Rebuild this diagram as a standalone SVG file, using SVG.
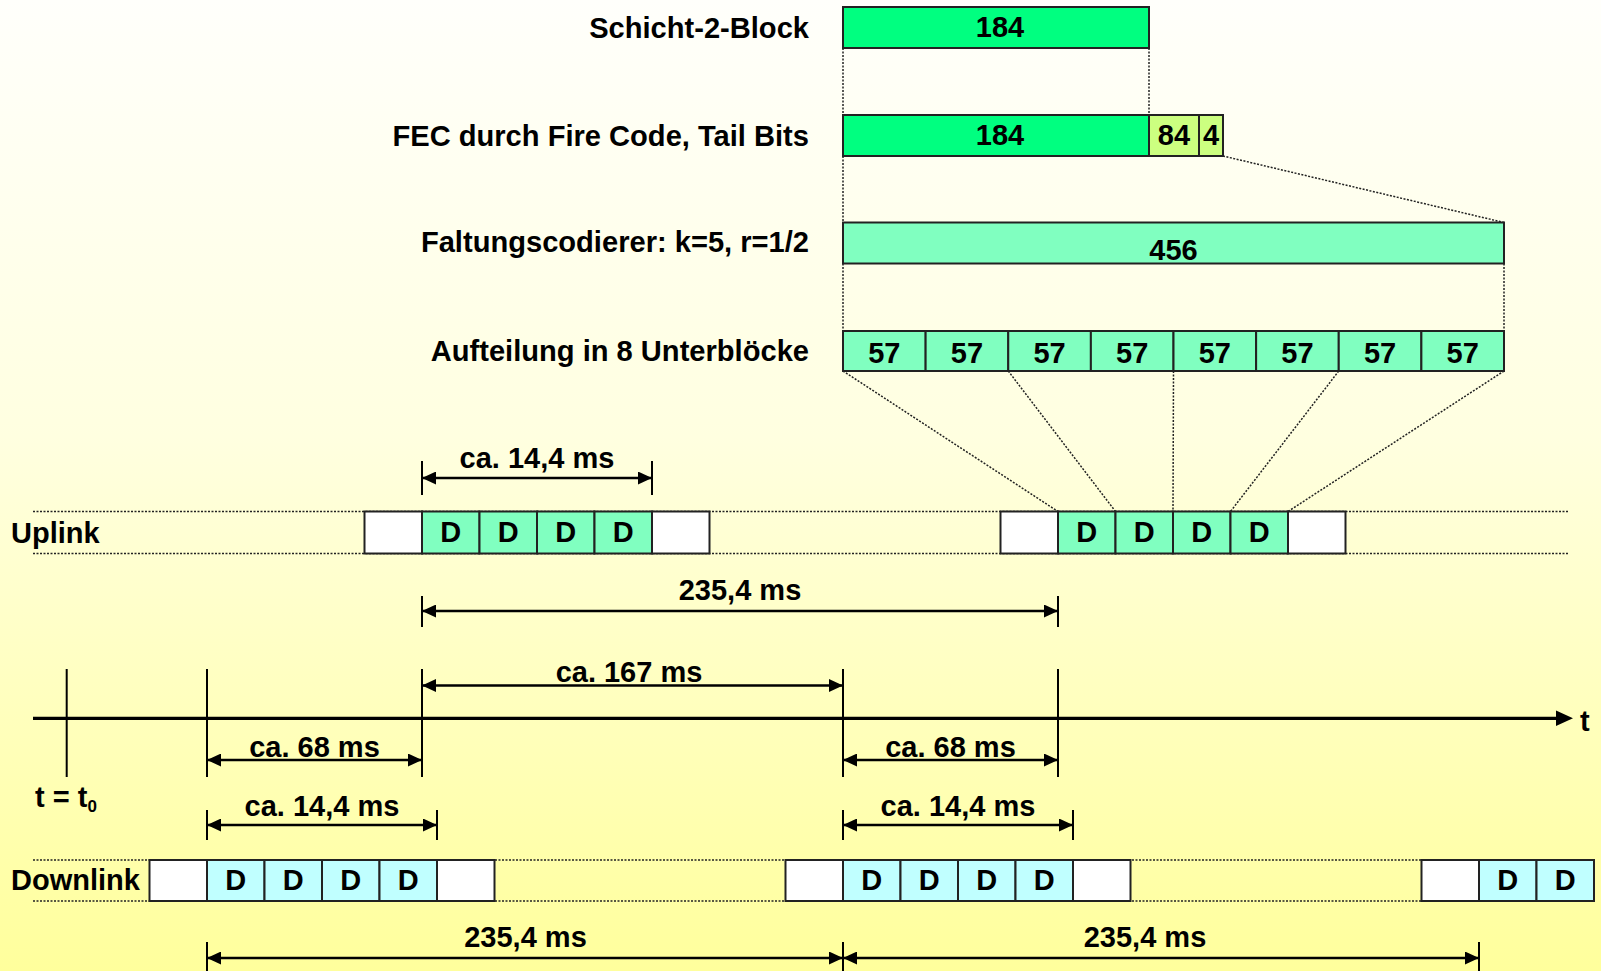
<svg xmlns="http://www.w3.org/2000/svg" width="1601" height="971" viewBox="0 0 1601 971">
<defs>
<linearGradient id="bg" x1="0" y1="0" x2="0" y2="1">
<stop offset="0" stop-color="#FFFFFB"/>
<stop offset="0.45" stop-color="#FFFFE0"/>
<stop offset="1" stop-color="#FFFF9C"/>
</linearGradient>
<marker id="ah" viewBox="0 0 14 13" refX="14" refY="6.5" markerWidth="14" markerHeight="13" markerUnits="userSpaceOnUse" orient="auto-start-reverse">
<path d="M0,0 L14,6.5 L0,13 z" fill="#000"/>
</marker>
<style>
text{font-family:"Liberation Sans",Arial,sans-serif;font-weight:bold;font-size:29px;fill:#000}
.lbl{text-anchor:end;font-size:29.1px}
.c{text-anchor:middle}
.box{stroke:#222;stroke-width:2}
.g1{fill:#00FF80}
.g2{fill:#CCFF80}
.g3{fill:#80FFC0}
.cy{fill:#C0FFFF}
.wh{fill:#FFFFFF}
.dot{stroke:#222;stroke-width:1.5;stroke-dasharray:2 1.5;fill:none}
.dim{stroke:#000;stroke-width:2.5;fill:none;marker-start:url(#ah);marker-end:url(#ah)}
.tick{stroke:#000;stroke-width:2;fill:none}
</style>
</defs>
<rect x="0" y="0" width="1601" height="971" fill="url(#bg)"/>

<g id="labels">
<text class="lbl" x="809" y="37.5">Schicht-2-Block</text>
<text class="lbl" x="809" y="145.5">FEC durch Fire Code, Tail Bits</text>
<text class="lbl" x="809" y="251.5">Faltungscodierer: k=5, r=1/2</text>
<text class="lbl" x="809" y="360.5">Aufteilung in 8 Unterblöcke</text>
<text x="11" y="542.5">Uplink</text>
<text x="11" y="889.5">Downlink</text>
<text x="35" y="807">t = t<tspan font-size="17" dy="5">0</tspan></text>
<text x="1580" y="731">t</text>
</g>

<g id="connectors">
<line class="dot" x1="843" y1="48" x2="843" y2="115"/>
<line class="dot" x1="1149" y1="48" x2="1149" y2="115"/>
<line class="dot" x1="843" y1="156" x2="843" y2="222.5"/>
<line class="dot" x1="1223" y1="156" x2="1504" y2="222.5"/>
<line class="dot" x1="843" y1="263.5" x2="843" y2="331"/>
<line class="dot" x1="1504" y1="263.5" x2="1504" y2="331"/>
<line class="dot" x1="843" y1="371" x2="1058" y2="511.5"/>
<line class="dot" x1="1008.25" y1="371" x2="1115.5" y2="511.5"/>
<line class="dot" x1="1173.5" y1="371" x2="1173" y2="511.5"/>
<line class="dot" x1="1338.75" y1="371" x2="1230.5" y2="511.5"/>
<line class="dot" x1="1504" y1="371" x2="1288" y2="511.5"/>
<line class="dot" x1="33" y1="511.5" x2="1569" y2="511.5"/>
<line class="dot" x1="33" y1="553.5" x2="1569" y2="553.5"/>
<line class="dot" x1="33" y1="860" x2="1594" y2="860"/>
<line class="dot" x1="33" y1="901" x2="1594" y2="901"/>
</g>

<g id="block-184">
<rect class="box g1" x="843" y="7" width="306" height="41"/>
<text class="c" x="1000" y="37">184</text>
</g>
<g id="block-fec">
<rect class="box g1" x="843" y="115" width="306" height="41"/>
<text class="c" x="1000" y="145">184</text>
<rect class="box g2" x="1149" y="115" width="50" height="41"/>
<text class="c" x="1174" y="145">84</text>
<rect class="box g2" x="1199" y="115" width="24" height="41"/>
<text class="c" x="1211" y="145">4</text>
</g>
<g id="block-456">
<rect class="box g3" x="843" y="222.5" width="661" height="41"/>
<text class="c" x="1173.5" y="260">456</text>
</g>
<g id="block-57">
<rect class="box g3" x="843" y="331" width="82.625" height="40"/>
<rect class="box g3" x="925.625" y="331" width="82.625" height="40"/>
<rect class="box g3" x="1008.25" y="331" width="82.625" height="40"/>
<rect class="box g3" x="1090.875" y="331" width="82.625" height="40"/>
<rect class="box g3" x="1173.5" y="331" width="82.625" height="40"/>
<rect class="box g3" x="1256.125" y="331" width="82.625" height="40"/>
<rect class="box g3" x="1338.75" y="331" width="82.625" height="40"/>
<rect class="box g3" x="1421.375" y="331" width="82.625" height="40"/>
<text class="c" x="884.3" y="363">57</text>
<text class="c" x="966.9" y="363">57</text>
<text class="c" x="1049.6" y="363">57</text>
<text class="c" x="1132.2" y="363">57</text>
<text class="c" x="1214.8" y="363">57</text>
<text class="c" x="1297.4" y="363">57</text>
<text class="c" x="1380.1" y="363">57</text>
<text class="c" x="1462.7" y="363">57</text>
</g>

<g id="uplink-burst-1">
<rect class="box wh" x="364.5" y="511.5" width="57.5" height="42"/>
<rect class="box g3" x="422" y="511.5" width="57.5" height="42"/>
<rect class="box g3" x="479.5" y="511.5" width="57.5" height="42"/>
<rect class="box g3" x="537" y="511.5" width="57.5" height="42"/>
<rect class="box g3" x="594.5" y="511.5" width="57.5" height="42"/>
<rect class="box wh" x="652" y="511.5" width="57.5" height="42"/>
<text class="c" x="450.75" y="542">D</text>
<text class="c" x="508.25" y="542">D</text>
<text class="c" x="565.75" y="542">D</text>
<text class="c" x="623.25" y="542">D</text>
</g>
<g id="uplink-burst-2">
<rect class="box wh" x="1000.5" y="511.5" width="57.5" height="42"/>
<rect class="box g3" x="1058" y="511.5" width="57.5" height="42"/>
<rect class="box g3" x="1115.5" y="511.5" width="57.5" height="42"/>
<rect class="box g3" x="1173" y="511.5" width="57.5" height="42"/>
<rect class="box g3" x="1230.5" y="511.5" width="57.5" height="42"/>
<rect class="box wh" x="1288" y="511.5" width="57.5" height="42"/>
<text class="c" x="1086.75" y="542">D</text>
<text class="c" x="1144.25" y="542">D</text>
<text class="c" x="1201.75" y="542">D</text>
<text class="c" x="1259.25" y="542">D</text>
</g>

<g id="downlink-burst-1">
<rect class="box wh" x="149.5" y="860" width="57.5" height="41"/>
<rect class="box cy" x="207" y="860" width="57.5" height="41"/>
<rect class="box cy" x="264.5" y="860" width="57.5" height="41"/>
<rect class="box cy" x="322" y="860" width="57.5" height="41"/>
<rect class="box cy" x="379.5" y="860" width="57.5" height="41"/>
<rect class="box wh" x="437" y="860" width="57.5" height="41"/>
<text class="c" x="235.75" y="890">D</text>
<text class="c" x="293.25" y="890">D</text>
<text class="c" x="350.75" y="890">D</text>
<text class="c" x="408.25" y="890">D</text>
</g>
<g id="downlink-burst-2">
<rect class="box wh" x="785.5" y="860" width="57.5" height="41"/>
<rect class="box cy" x="843" y="860" width="57.5" height="41"/>
<rect class="box cy" x="900.5" y="860" width="57.5" height="41"/>
<rect class="box cy" x="958" y="860" width="57.5" height="41"/>
<rect class="box cy" x="1015.5" y="860" width="57.5" height="41"/>
<rect class="box wh" x="1073" y="860" width="57.5" height="41"/>
<text class="c" x="871.75" y="890">D</text>
<text class="c" x="929.25" y="890">D</text>
<text class="c" x="986.75" y="890">D</text>
<text class="c" x="1044.25" y="890">D</text>
</g>
<g id="downlink-burst-3">
<rect class="box wh" x="1421.5" y="860" width="57.5" height="41"/>
<rect class="box cy" x="1479" y="860" width="57.5" height="41"/>
<rect class="box cy" x="1536.5" y="860" width="57.5" height="41"/>
<text class="c" x="1507.75" y="890">D</text>
<text class="c" x="1565.25" y="890">D</text>
</g>

<g id="time-axis">
<line x1="33" y1="718.3" x2="1560" y2="718.3" stroke="#000" stroke-width="3.3"/>
<path d="M1556,710.5 L1573,718.3 L1556,726 z" fill="#000"/>
<line class="tick" x1="66.7" y1="669" x2="66.7" y2="777"/>
<line class="tick" x1="207" y1="669" x2="207" y2="777"/>
<line class="tick" x1="422" y1="669" x2="422" y2="777"/>
<line class="tick" x1="843" y1="669" x2="843" y2="777"/>
<line class="tick" x1="1058" y1="669" x2="1058" y2="777"/>
</g>

<g id="dimensions">
<line class="tick" x1="422" y1="461" x2="422" y2="495"/>
<line class="tick" x1="652" y1="461" x2="652" y2="495"/>
<line class="dim" x1="422" y1="478" x2="652" y2="478"/>
<text class="c" x="537" y="468">ca. 14,4 ms</text>

<line class="tick" x1="422" y1="596" x2="422" y2="627"/>
<line class="tick" x1="1058" y1="596" x2="1058" y2="627"/>
<line class="dim" x1="422" y1="611" x2="1058" y2="611"/>
<text class="c" x="740" y="600">235,4 ms</text>

<line class="dim" x1="422" y1="685.5" x2="843" y2="685.5"/>
<text class="c" x="629" y="682">ca. 167 ms</text>

<line class="dim" x1="207" y1="760" x2="422" y2="760"/>
<text class="c" x="314.5" y="757">ca. 68 ms</text>
<line class="dim" x1="843" y1="760" x2="1058" y2="760"/>
<text class="c" x="950.5" y="757">ca. 68 ms</text>

<line class="tick" x1="207" y1="810" x2="207" y2="840"/>
<line class="tick" x1="437" y1="810" x2="437" y2="840"/>
<line class="dim" x1="207" y1="825" x2="437" y2="825"/>
<text class="c" x="322" y="815.5">ca. 14,4 ms</text>
<line class="tick" x1="843" y1="810" x2="843" y2="840"/>
<line class="tick" x1="1073" y1="810" x2="1073" y2="840"/>
<line class="dim" x1="843" y1="825" x2="1073" y2="825"/>
<text class="c" x="958" y="815.5">ca. 14,4 ms</text>

<line class="tick" x1="207" y1="942" x2="207" y2="971"/>
<line class="tick" x1="843" y1="942" x2="843" y2="971"/>
<line class="tick" x1="1479" y1="942" x2="1479" y2="971"/>
<line class="dim" x1="207" y1="958" x2="843" y2="958"/>
<line class="dim" x1="843" y1="958" x2="1479" y2="958"/>
<text class="c" x="525.5" y="947">235,4 ms</text>
<text class="c" x="1145" y="947">235,4 ms</text>
</g>
</svg>
